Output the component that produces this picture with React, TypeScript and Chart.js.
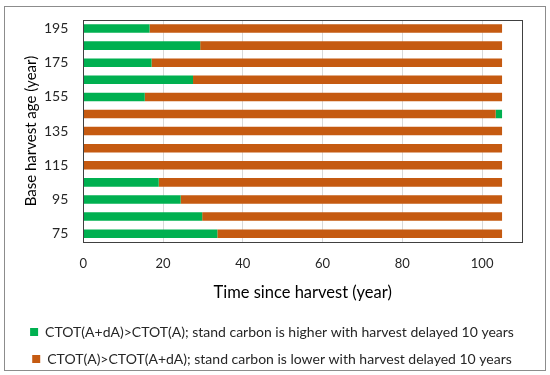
import React, { useEffect, useRef } from "react";
import { Chart, registerables } from "chart.js";

Chart.register(...registerables);

const categories = ["195", "185", "175", "165", "155", "145", "135", "125", "115", "105", "95", "85", "75"];
const greenStart = [16.6, 29.3, 17.1, 27.5, 15.4, 0, 0, 0, 0, 18.9, 24.4, 29.8, 33.6];
const orangeMid = [88.4, 75.7, 87.9, 77.5, 89.6, 103.4, 105, 105, 105, 86.1, 80.6, 75.2, 71.4];
const greenEnd = [0, 0, 0, 0, 0, 1.6, 0, 0, 0, 0, 0, 0, 0];
const xTicks = [0, 20, 40, 60, 80, 100];

const GREEN = "#00B050";
const ORANGE = "#C55A11";
const FONT = "Lato, 'Open Sans', sans-serif";

const frame = {
  id: "frame",
  afterDraw(chart: any) {
    const { ctx, chartArea } = chart;
    ctx.save();
    ctx.strokeStyle = "#404040";
    ctx.lineWidth = 1;
    ctx.strokeRect(
      Math.round(chartArea.left) + 0.5,
      Math.round(chartArea.top) + 0.5,
      Math.round(chartArea.right - chartArea.left),
      Math.round(chartArea.bottom - chartArea.top)
    );
    ctx.restore();
  },
};

export default function App() {
  const ref = useRef<HTMLCanvasElement>(null);
  useEffect(() => {
    const chart = new Chart(ref.current as HTMLCanvasElement, {
      type: "bar",
      data: {
        labels: categories,
        datasets: [
          {
            label: "CTOT(A+dA)>CTOT(A); stand carbon is higher with harvest delayed 10 years",
            data: greenStart,
            backgroundColor: GREEN,
            barPercentage: 0.5,
            categoryPercentage: 1,
          },
          {
            label: "CTOT(A)>CTOT(A+dA); stand carbon is lower with harvest delayed 10 years",
            data: orangeMid,
            backgroundColor: ORANGE,
            barPercentage: 0.5,
            categoryPercentage: 1,
          },
          {
            label: "extra",
            data: greenEnd,
            backgroundColor: GREEN,
            barPercentage: 0.5,
            categoryPercentage: 1,
          },
        ],
      },
      options: {
        indexAxis: "y",
        animation: false,
        responsive: true,
        maintainAspectRatio: false,
        layout: { padding: { left: 17, top: 13, right: 23, bottom: -6 } },
        plugins: {
          legend: {
            position: "bottom",
            labels: {
              filter: (item: any) => item.datasetIndex !== 2,
              boxWidth: 8,
              boxHeight: 8,
              padding: 13,
              color: "#262626",
              font: { family: FONT, size: 14 },
            },
          },
          tooltip: { enabled: false },
        },
        scales: {
          x: {
            stacked: true,
            min: 0,
            max: 110,
            afterBuildTicks: (axis: any) => {
              axis.ticks = xTicks.map((v) => ({ value: v }));
            },
            ticks: { color: "#262626", font: { family: FONT, size: 13 }, padding: 14 },
            grid: { color: "#d9d9d9", drawTicks: false },
            border: { display: false },
            title: {
              display: true,
              text: "Time since harvest (year)",
              color: "#000",
              font: { family: FONT, size: 16.5 },
              padding: { top: -3, bottom: 9.4 },
            },
          },
          y: {
            stacked: true,
            afterFit: (scale: any) => {
              scale.paddingTop = 0;
              scale.paddingBottom = 0;
            },
            ticks: {
              autoSkip: false,
              color: "#262626",
              font: { family: FONT, size: 14 },
              padding: 15,
              callback: (_v: any, i: number) => (i % 2 === 0 ? categories[i] : ""),
            },
            grid: { display: false, drawTicks: false },
            border: { display: false },
            title: {
              display: true,
              text: "Base harvest age (year)",
              color: "#000",
              font: { family: FONT, size: 15 },
              padding: { top: 0, bottom: -11 },
            },
          },
        },
      },
      plugins: [frame],
    });
    return () => chart.destroy();
  }, []);
  return (
    <div
      style={{
        position: "absolute",
        left: 4,
        top: 6,
        width: 542,
        height: 365,
        border: "1px solid #8c8c8c",
        boxSizing: "border-box",
        background: "#fff",
      }}
    >
      <canvas ref={ref} />
    </div>
  );
}
